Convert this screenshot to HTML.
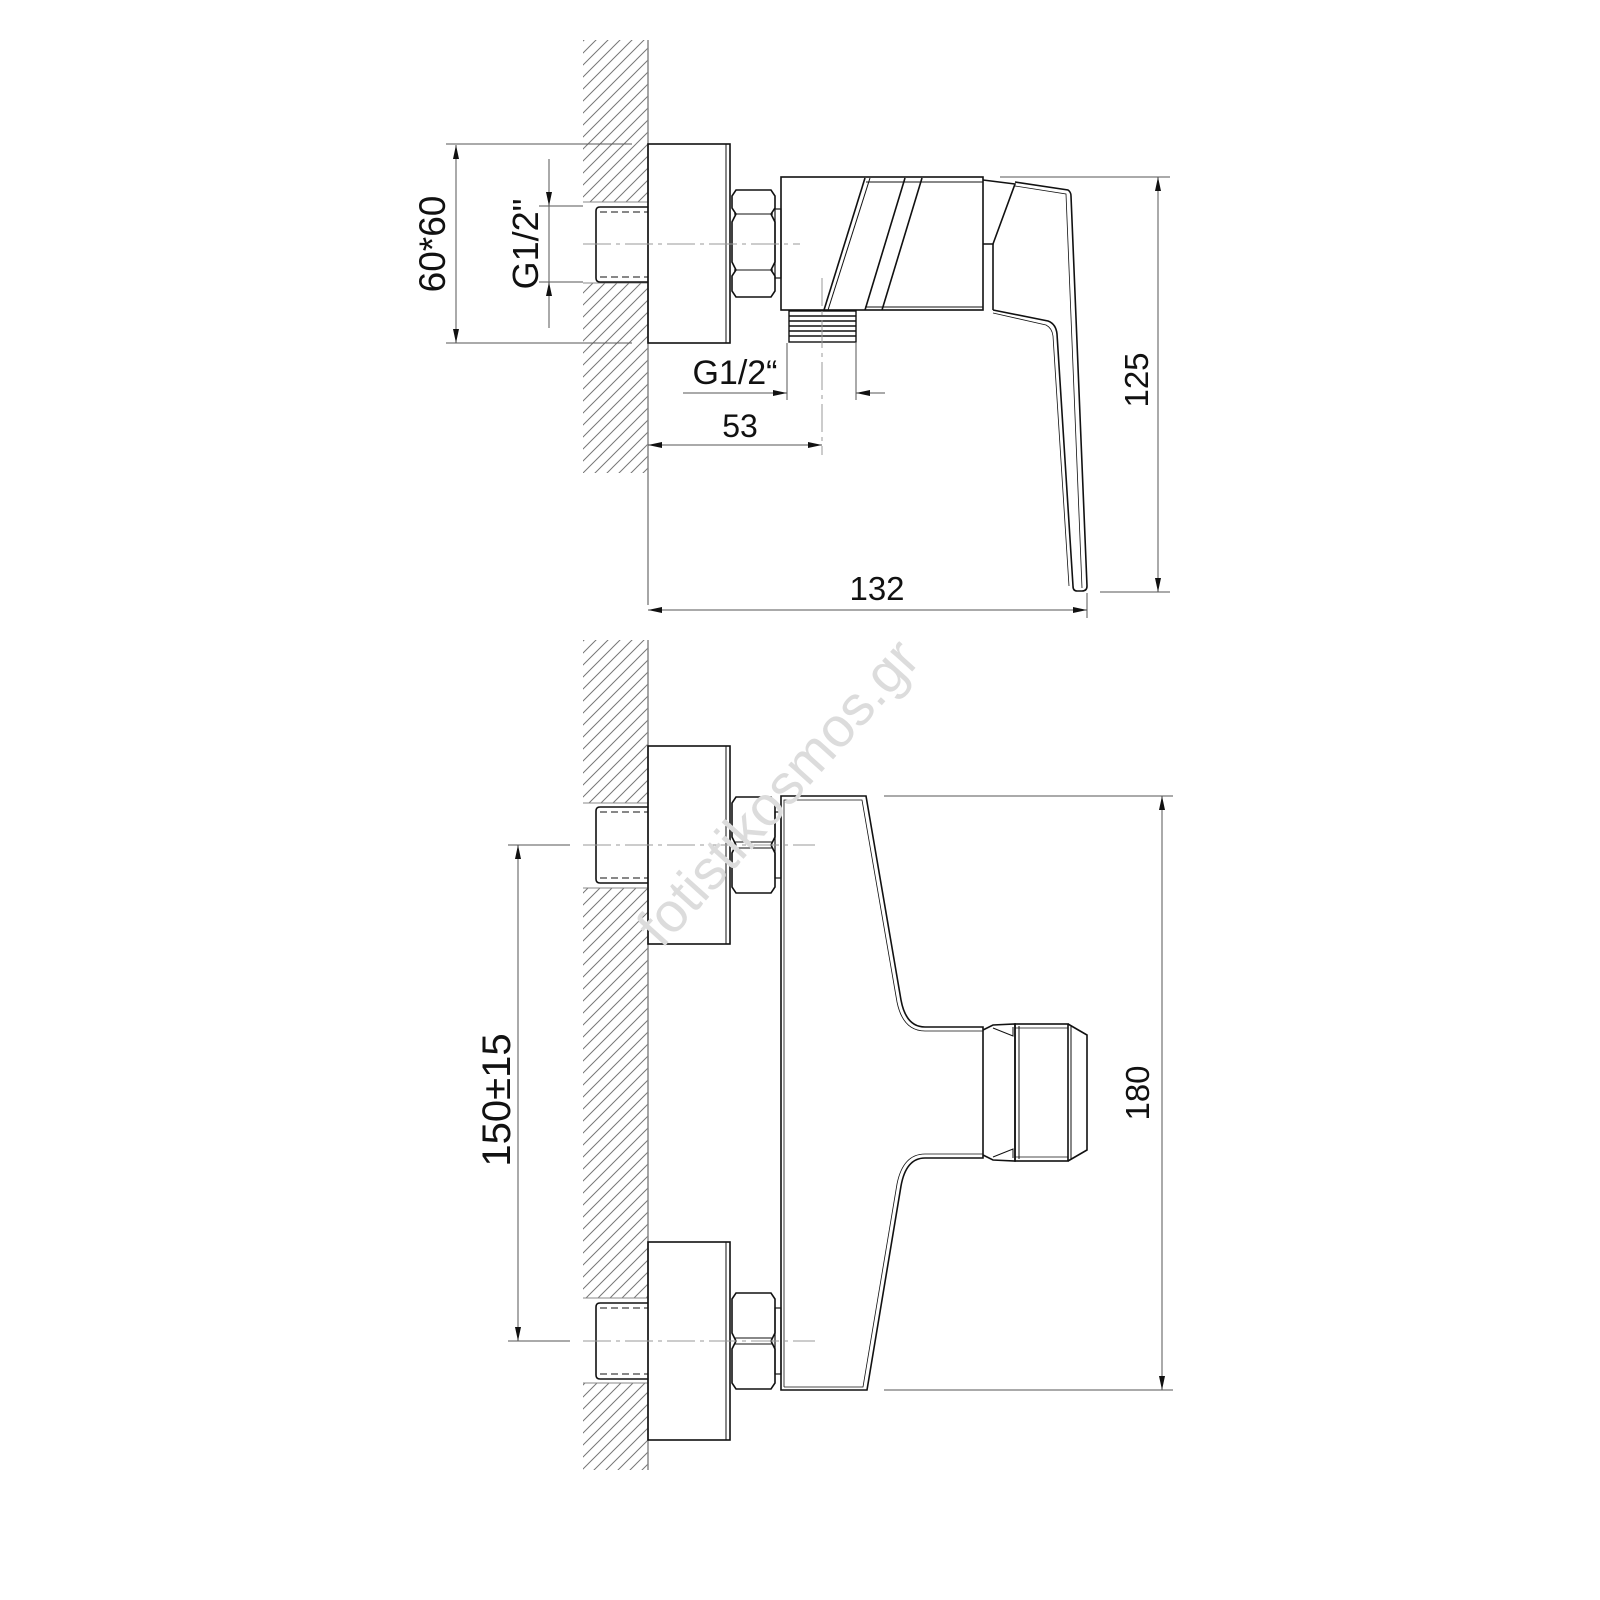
<!DOCTYPE html>
<html><head><meta charset="utf-8"><style>
html,body{margin:0;padding:0;background:#fff;}
svg{display:block;}
text{font-family:"Liberation Sans",sans-serif;fill:#111;}
</style></head><body>
<svg width="1600" height="1600" viewBox="0 0 1600 1600" xmlns="http://www.w3.org/2000/svg">
<defs>
<pattern id="h" patternUnits="userSpaceOnUse" width="12" height="12">
<path d="M0,12 L12,0 M-3,3 L3,-3 M9,15 L15,9" stroke="#777" stroke-width="1"/>
</pattern>
<marker id="a" viewBox="0 0 14 6" refX="14" refY="3" markerWidth="14" markerHeight="6" markerUnits="userSpaceOnUse" orient="auto">
<path d="M0,0 L14,3 L0,6 Z" fill="#111"/>
</marker>
</defs>

<!-- ========== TOP VIEW ========== -->
<g>
<rect x="583" y="40" width="65" height="162" fill="url(#h)"/>
<rect x="583" y="283" width="65" height="190" fill="url(#h)"/>
<g stroke="#888" stroke-width="1">
<line x1="583" y1="202" x2="648" y2="202"/>
<line x1="583" y1="283" x2="648" y2="283"/>
</g>
<line x1="648" y1="40" x2="648" y2="605" stroke="#888" stroke-width="1.5"/>
</g>
<g fill="none" stroke="#111" stroke-width="1.6">
<path d="M648,207 L600,207 Q596,207 596,211 L596,278 Q596,282 600,282 L648,282"/>
<line x1="600" y1="212" x2="648" y2="212" stroke-dasharray="7,4" stroke-width="1"/>
<line x1="600" y1="277" x2="648" y2="277" stroke-dasharray="7,4" stroke-width="1"/>
<rect x="648" y="144" width="82" height="199"/>
<line x1="726" y1="144" x2="726" y2="343" stroke-width="1"/>
<path d="M736,190 L771,190 L775,196 L775,208 L771,214 L775,222 L775,262 L771,270 L775,276 L775,291 L771,297 L736,297 L732,291 L732,276 L736,270 L732,262 L732,222 L736,214 L732,208 L732,196 Z"/>
<line x1="734" y1="214" x2="773" y2="214" stroke-width="1"/>
<line x1="734" y1="270" x2="773" y2="270" stroke-width="1"/>
<rect x="775" y="209" width="6" height="69" stroke-width="1.2"/>
<rect x="781" y="177" width="202" height="133"/>
<line x1="866" y1="182" x2="983" y2="182" stroke-width="1"/>
<line x1="865" y1="178" x2="824" y2="310"/>
<line x1="870" y1="178" x2="828" y2="310" stroke-width="1"/>
<line x1="905" y1="178" x2="865" y2="310"/>
<line x1="922" y1="178" x2="882" y2="310"/>
<line x1="865" y1="307" x2="983" y2="307" stroke-width="1"/>
<rect x="789" y="311" width="67" height="31" stroke-width="1.4"/>
<g stroke-width="1.4">
<line x1="789" y1="316" x2="856" y2="316"/><line x1="789" y1="321" x2="856" y2="321"/>
<line x1="789" y1="326" x2="856" y2="326"/><line x1="789" y1="331" x2="856" y2="331"/>
<line x1="789" y1="336" x2="856" y2="336"/>
</g>
<path d="M983,180 L1015,184 L993,244 L983,244"/>
<line x1="993" y1="244" x2="993" y2="310"/>
<path d="M1015,182 L1068,190 Q1071,192 1071,196 L1087,586 Q1087,591 1082,591 L1077,591 Q1073,591 1073,586 L1057,334 Q1056,324 1048,321 L993,310"/>
<path d="M1015,186 L1066,194 L1082,588" stroke-width="0.8"/>
<path d="M993,313 L1046,325 Q1052,328 1053,336 L1069,586" stroke-width="0.8"/>
</g>
<g stroke="#999" stroke-width="1" stroke-dasharray="28,5,4,5" fill="none">
<line x1="583" y1="244" x2="800" y2="244"/>
<line x1="822" y1="278" x2="822" y2="455"/>
</g>
<g stroke="#555" stroke-width="1" fill="none">
<line x1="446" y1="144" x2="632" y2="144"/>
<line x1="446" y1="343" x2="632" y2="343"/>
<line x1="456" y1="244" x2="456" y2="145" marker-end="url(#a)"/>
<line x1="456" y1="244" x2="456" y2="343" marker-end="url(#a)"/>
<line x1="539" y1="206" x2="583" y2="206"/>
<line x1="539" y1="282" x2="583" y2="282"/>
<line x1="549" y1="159" x2="549" y2="206" marker-end="url(#a)"/>
<line x1="549" y1="328" x2="549" y2="282" marker-end="url(#a)"/>
<line x1="549" y1="206" x2="549" y2="282"/>
<line x1="787" y1="343" x2="787" y2="400"/>
<line x1="856" y1="343" x2="856" y2="400"/>
<line x1="683" y1="393" x2="787" y2="393" marker-end="url(#a)"/>
<line x1="885" y1="393" x2="856" y2="393" marker-end="url(#a)"/>
<line x1="735" y1="445" x2="648" y2="445" marker-end="url(#a)"/>
<line x1="735" y1="445" x2="822" y2="445" marker-end="url(#a)"/>
<line x1="1087" y1="593" x2="1087" y2="618"/>
<line x1="870" y1="610" x2="648" y2="610" marker-end="url(#a)"/>
<line x1="870" y1="610" x2="1087" y2="610" marker-end="url(#a)"/>
<line x1="1000" y1="177" x2="1170" y2="177"/>
<line x1="1100" y1="592" x2="1170" y2="592"/>
<line x1="1158" y1="385" x2="1158" y2="177" marker-end="url(#a)"/>
<line x1="1158" y1="385" x2="1158" y2="592" marker-end="url(#a)"/>
</g>
<text x="445" y="244" font-size="37" text-anchor="middle" transform="rotate(-90 445 244)">60*60</text>
<text x="538" y="244" font-size="36" text-anchor="middle" transform="rotate(-90 538 244)">G1/2"</text>
<text x="735" y="384" font-size="34" text-anchor="middle">G1/2“</text>
<text x="740" y="437" font-size="32" text-anchor="middle">53</text>
<text x="877" y="600" font-size="33" text-anchor="middle">132</text>
<text x="1148" y="380" font-size="33" text-anchor="middle" transform="rotate(-90 1148 380)">125</text>

<!-- ========== BOTTOM VIEW ========== -->
<g>
<rect x="583" y="640" width="65" height="163" fill="url(#h)"/>
<rect x="583" y="888" width="65" height="410" fill="url(#h)"/>
<rect x="583" y="1383" width="65" height="87" fill="url(#h)"/>
<g stroke="#888" stroke-width="1">
<line x1="583" y1="803" x2="648" y2="803"/><line x1="583" y1="888" x2="648" y2="888"/>
<line x1="583" y1="1298" x2="648" y2="1298"/><line x1="583" y1="1383" x2="648" y2="1383"/>
</g>
<line x1="648" y1="640" x2="648" y2="1470" stroke="#888" stroke-width="1.5"/>
</g>
<g fill="none" stroke="#111" stroke-width="1.6">
<path d="M648,807 L600,807 Q596,807 596,811 L596,879 Q596,883 600,883 L648,883"/>
<line x1="600" y1="812" x2="648" y2="812" stroke-dasharray="7,4" stroke-width="1"/>
<line x1="600" y1="878" x2="648" y2="878" stroke-dasharray="7,4" stroke-width="1"/>
<rect x="648" y="746" width="82" height="198"/>
<line x1="726" y1="746" x2="726" y2="944" stroke-width="1"/>
<path d="M736,797 L771,797 L775,803 L775,837 L771,845 L775,853 L775,887 L771,893 L736,893 L732,887 L732,853 L736,845 L732,837 L732,803 Z"/>
<line x1="734" y1="842" x2="773" y2="842" stroke-width="1"/>
<line x1="734" y1="848" x2="773" y2="848" stroke-width="1"/>
<rect x="775" y="812" width="6" height="66" stroke-width="1.2"/>
<path d="M648,1303 L600,1303 Q596,1303 596,1307 L596,1375 Q596,1379 600,1379 L648,1379"/>
<line x1="600" y1="1308" x2="648" y2="1308" stroke-dasharray="7,4" stroke-width="1"/>
<line x1="600" y1="1374" x2="648" y2="1374" stroke-dasharray="7,4" stroke-width="1"/>
<rect x="648" y="1242" width="82" height="198"/>
<line x1="726" y1="1242" x2="726" y2="1440" stroke-width="1"/>
<path d="M736,1293 L771,1293 L775,1299 L775,1333 L771,1341 L775,1349 L775,1383 L771,1389 L736,1389 L732,1383 L732,1349 L736,1341 L732,1333 L732,1299 Z"/>
<line x1="734" y1="1338" x2="773" y2="1338" stroke-width="1"/>
<line x1="734" y1="1344" x2="773" y2="1344" stroke-width="1"/>
<rect x="775" y="1308" width="6" height="66" stroke-width="1.2"/>
<path d="M781,1390 L781,796 L866,796 L901,1000 Q906,1027 925,1027 L983,1027 L983,1158 L925,1158 Q906,1158 901,1186 L867,1390 Z"/>
<path d="M784,1387 L784,800 L862,800 L897,1002 Q903,1031 925,1031 L983,1031 M983,1154 L925,1154 Q903,1154 897,1184 L863,1387 L784,1387" stroke-width="0.8"/>
<path d="M983,1030 L993,1025 L1015,1024 L1015,1161 L993,1160 L983,1155"/>
<path d="M993,1028 L1013,1036 L1013,1027 M993,1157 L1013,1149 L1013,1158" stroke-width="1"/>
<rect x="1015" y="1024" width="53" height="137"/>
<line x1="1019" y1="1026" x2="1019" y2="1159" stroke-width="1"/>
<line x1="1015" y1="1028" x2="1068" y2="1028" stroke-width="0.8"/>
<line x1="1015" y1="1157" x2="1068" y2="1157" stroke-width="0.8"/>
<path d="M1068,1024 L1087,1035 L1087,1150 L1068,1161"/>
<line x1="1071" y1="1026" x2="1071" y2="1159" stroke-width="1"/>
</g>
<g stroke="#999" stroke-width="1" stroke-dasharray="28,5,4,5" fill="none">
<line x1="583" y1="845" x2="815" y2="845"/>
<line x1="583" y1="1341" x2="815" y2="1341"/>
</g>
<g stroke="#555" stroke-width="1" fill="none">
<line x1="508" y1="845" x2="570" y2="845"/>
<line x1="508" y1="1341" x2="570" y2="1341"/>
<line x1="518" y1="1093" x2="518" y2="845" marker-end="url(#a)"/>
<line x1="518" y1="1093" x2="518" y2="1341" marker-end="url(#a)"/>
<line x1="884" y1="796" x2="1173" y2="796"/>
<line x1="884" y1="1390" x2="1173" y2="1390"/>
<line x1="1162" y1="1093" x2="1162" y2="796" marker-end="url(#a)"/>
<line x1="1162" y1="1093" x2="1162" y2="1390" marker-end="url(#a)"/>
</g>
<text x="510" y="1100" font-size="40" text-anchor="middle" transform="rotate(-90 510 1100)">150±15</text>
<text x="1149" y="1093" font-size="33" text-anchor="middle" transform="rotate(-90 1149 1093)">180</text>

<text x="792" y="805" font-size="56" text-anchor="middle" style="fill:#dcdcdc" transform="rotate(-48 792 805)">fotistikosmos.gr</text>
</svg>
</body></html>
